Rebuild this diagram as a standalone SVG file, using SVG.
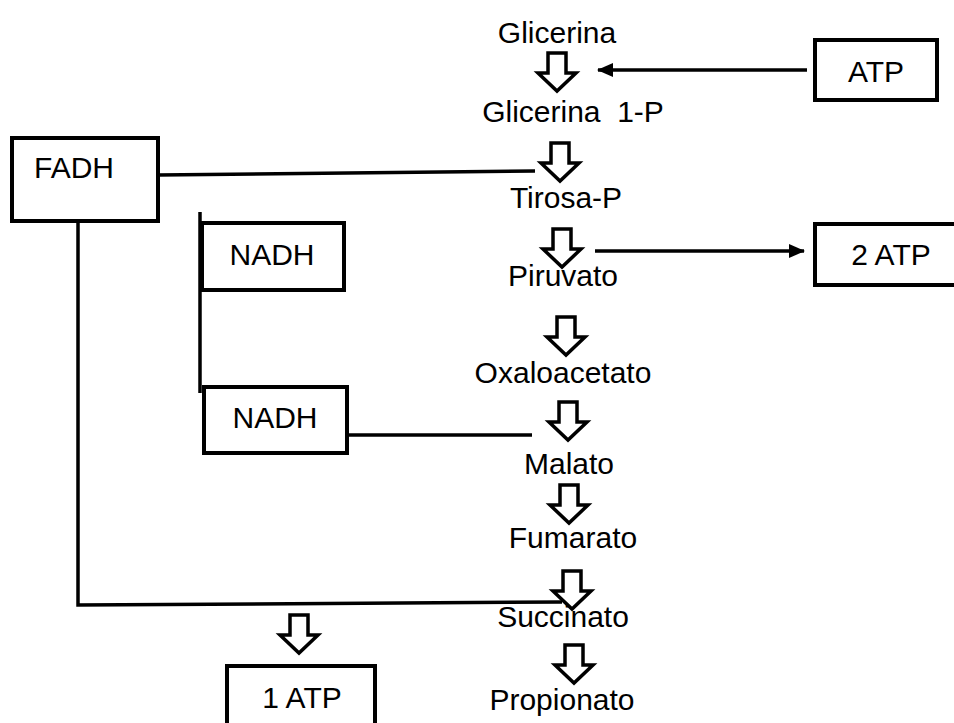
<svg xmlns="http://www.w3.org/2000/svg" width="954" height="723" viewBox="0 0 954 723">
<style>
text{font-family:"Liberation Sans",Arial,sans-serif;font-size:30px;fill:#000}
.t{text-anchor:middle}
.box{fill:#fff;stroke:#000;stroke-width:4}
.ln{fill:none;stroke:#000;stroke-width:3.5}
.ha{fill:#fff;stroke:#000;stroke-width:3.5;stroke-linejoin:miter}
</style>
<defs>
<marker id="ah" markerWidth="16" markerHeight="14" refX="15" refY="7" orient="auto" markerUnits="userSpaceOnUse" viewBox="0 0 16 14">
<path d="M0,0 L16,7 L0,14 Z" fill="#000"/>
</marker>
<path id="harrow" d="M-9,0 H9 V20 H19 L0,38 L-19,20 H-9 Z"/>
</defs>
<g id="steps">
<text class="t" x="557" y="43">Glicerina</text>
<text class="t" x="573" y="122" xml:space="preserve">Glicerina  1-P</text>
<text class="t" x="566" y="208">Tirosa-P</text>
<text class="t" x="563" y="286">Piruvato</text>
<text class="t" x="563" y="383">Oxaloacetato</text>
<text class="t" x="569" y="474">Malato</text>
<text class="t" x="573" y="548">Fumarato</text>
<text class="t" x="563" y="627">Succinato</text>
<text class="t" x="562" y="710">Propionato</text>
</g>
<g id="flow-arrows">
<use href="#harrow" class="ha" x="557" y="53"/>
<use href="#harrow" class="ha" x="560" y="143"/>
<use href="#harrow" class="ha" x="562" y="229"/>
<use href="#harrow" class="ha" x="566" y="317"/>
<use href="#harrow" class="ha" x="568" y="402"/>
<use href="#harrow" class="ha" x="569" y="485"/>
<use href="#harrow" class="ha" x="572" y="571"/>
<use href="#harrow" class="ha" x="574" y="645"/>
<use href="#harrow" class="ha" x="299" y="615"/>
</g>
<g id="connectors">
<line class="ln" x1="807" y1="70" x2="598" y2="70" marker-end="url(#ah)"/>
<line class="ln" x1="595" y1="251" x2="804" y2="251" marker-end="url(#ah)"/>
<line class="ln" x1="158" y1="175" x2="535" y2="171"/>
<polyline class="ln" points="78,221 78,605 562,602"/>
<line class="ln" x1="200" y1="212" x2="200" y2="393"/>
<line class="ln" x1="347" y1="435" x2="532" y2="435"/>
</g>
<g id="ATP">
<rect class="box" x="815" y="40" width="122" height="60"/>
<text class="t" x="876" y="82">ATP</text>
</g>
<g id="FADH">
<rect class="box" x="12" y="138" width="146" height="83"/>
<text x="34" y="178">FADH</text>
</g>
<g id="NADH1">
<rect class="box" x="202" y="223" width="142" height="67"/>
<text class="t" x="272" y="265">NADH</text>
</g>
<g id="NADH2">
<rect class="box" x="204" y="387" width="143" height="66"/>
<text class="t" x="275" y="428">NADH</text>
</g>
<g id="ATP2">
<rect class="box" x="815" y="224" width="160" height="61"/>
<text class="t" x="891" y="265">2 ATP</text>
</g>
<g id="ATP1">
<rect class="box" x="227" y="666" width="148" height="70"/>
<text class="t" x="302" y="708">1 ATP</text>
</g>
</svg>
